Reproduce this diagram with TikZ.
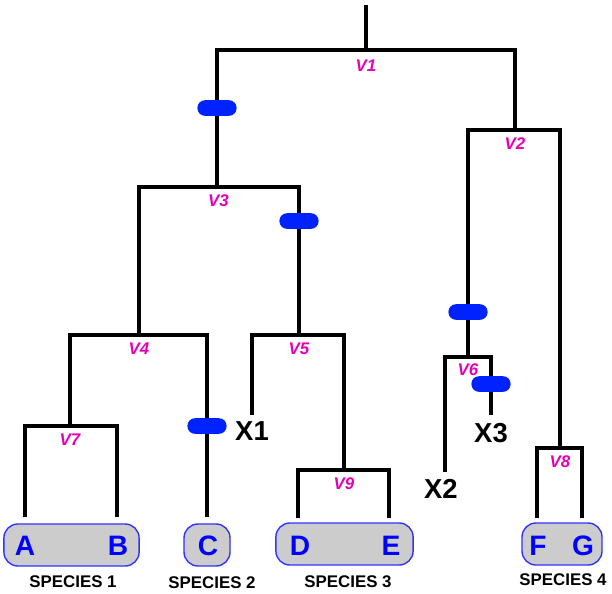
\documentclass[tikz,border=0pt]{standalone}
\usepackage{fontspec}
\setmainfont{Liberation Sans}
\usepackage{xcolor}
\usetikzlibrary{positioning}

\definecolor{mutblue}{RGB}{0,34,255}
\definecolor{vmag}{RGB}{230,0,180}
\definecolor{boxgray}{RGB}{204,204,204}
\definecolor{boxedge}{RGB}{51,51,255}

\begin{document}
\begin{tikzpicture}[
  x=0.025cm, y=-0.025cm,
  br/.style={line width=0.1cm, black},
  mut/.style={fill=mutblue, rounded corners=0.19cm, minimum width=0.98cm, minimum height=0.39cm, inner sep=0pt},
  vl/.style={font=\fontsize{12}{13}\bfseries\itshape, text=vmag, inner sep=0pt},
  xl/.style={font=\fontsize{19.5}{21}\bfseries, inner sep=0pt},
  leaf/.style={font=\fontsize{20}{22}\bfseries, text=blue, inner sep=0pt},
  grp/.style={draw=boxedge, line width=1pt, fill=boxgray, rounded corners=0.35cm, minimum height=1.05cm, inner sep=0pt},
  sp/.style={font=\fontsize{12}{14}\bfseries, inner sep=0pt}]
\useasboundingbox (0,0) rectangle (612,593);

% vertices of the tree
\coordinate (top) at (366,5);
\coordinate (v1) at (366,50);
\coordinate (v2) at (515,130);
\coordinate (v3) at (217,187);
\coordinate (v4) at (139,335);
\coordinate (v5) at (299,335);
\coordinate (v6) at (468,357);
\coordinate (v7) at (70,426);
\coordinate (v8) at (560,448);
\coordinate (v9) at (344,470);

% free ends of the branches
\coordinate (tA) at (25,517);
\coordinate (tB) at (117,517);
\coordinate (tC) at (207,517);
\coordinate (tD) at (298,518);
\coordinate (tE) at (389,518);
\coordinate (tF) at (537,518);
\coordinate (tG) at (582,518);
\coordinate (tX1) at (252,415);
\coordinate (tX2) at (445,472);
\coordinate (tX3) at (491,415);

% branches
\draw[br] (top) -- (v1);
\draw[br] (v3) |- (v1) -| (v2);
\draw[br] (v4) |- (v3) -| (v5);
\draw[br] (v7) |- (v4) -| (tC);
\draw[br] (tA) |- (v7) -| (tB);
\draw[br] (tX1) |- (v5) -| (v9);
\draw[br] (tD) |- (v9) -| (tE);
\draw[br] (v6) |- (v2) -| (v8);
\draw[br] (tX2) |- (v6) -| (tX3);
\draw[br] (tF) |- (v8) -| (tG);

% vertex labels
\node[vl, below=0.25cm of v1] (l1) {V1};
\node[vl, below=0.19cm of v2] (l2) {V2};
\node[vl, below=0.19cm of v3, xshift=1pt] (l3) {V3};
\node[vl, below=0.19cm of v4] (l4) {V4};
\node[vl, below=0.19cm of v5] (l5) {V5};
\node[vl, below=0.16cm of v6] (l6) {V6};
\node[vl, below=0.19cm of v7] (l7) {V7};
\node[vl, below=0.19cm of v8] (l8) {V8};
\node[vl, below=0.19cm of v9] (l9) {V9};

% mutations
\node[mut] (m1) at (217,108) {};
\node[mut] (m2) at (299,221) {};
\node[mut] (m3) at (207,426) {};
\node[mut] (m4) at (468,312) {};
\node[mut] (m5) at (491,384) {};

% extinct ends
\node[xl, below=0.17cm of tX1] (x1) {X1};
\node[xl, below=0.17cm of tX2, xshift=-3pt] (x2) {X2};
\node[xl, below=0.19cm of tX3] (x3) {X3};

% species groups
\node[grp, minimum width=3.38cm] (g1) at (71.5,545) {};
\node[grp, minimum width=1.15cm] (g2) at (207,545) {};
\node[grp, minimum width=3.43cm] (g3) at (344.5,544) {};
\node[grp, minimum width=2.0cm] (g4) at (562,544) {};

\node[leaf] (A) at (25,546) {A};
\node[leaf] (B) at (118,546) {B};
\node[leaf] (C) at (208,546) {C};
\node[leaf] (D) at (300,546) {D};
\node[leaf] (E) at (391,546) {E};
\node[leaf] (F) at (538,546) {F};
\node[leaf] (G) at (583,546) {G};

\node[sp] (s1) at (73,582) {SPECIES 1};
\node[sp] (s2) at (212,583) {SPECIES 2};
\node[sp] (s3) at (348,582) {SPECIES 3};
\node[sp] (s4) at (563,580) {SPECIES 4};
\end{tikzpicture}
\end{document}
